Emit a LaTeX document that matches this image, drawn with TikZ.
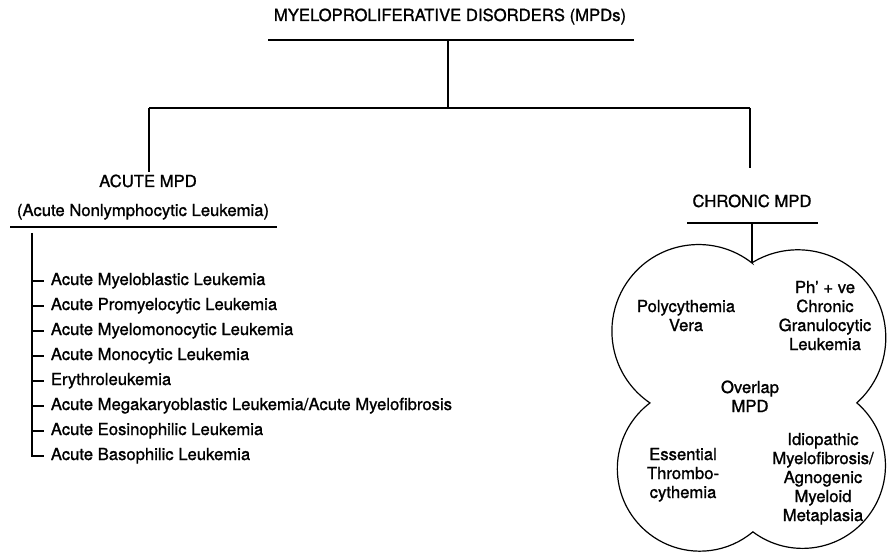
\documentclass[tikz,border=0pt]{standalone}
\usepackage{fontspec}
\setmainfont{TeX Gyre Heros}[FakeBold=1.2]

\begin{document}
\begin{tikzpicture}[x=0.75pt,y=-0.75pt,line width=1.3pt,
        every node/.style={font=\fontsize{12.5}{14.25}\selectfont, inner sep=0pt}]
        \useasboundingbox (0,0) rectangle (888,552);
        \begin{scope}[every node/.style={anchor=base, font=\fontsize{12.5}{14.25}\selectfont, inner sep=0pt}]
            \node (mpd) at (450, 21) {MYELOPROLIFERATIVE DISORDERS (MPDs)};
            \node (acute) at (148, 187) {ACUTE MPD};
            \node (anll) at (143, 216) {(Acute Nonlymphocytic Leukemia)};
            \node (chronic) at (752, 207) {CHRONIC MPD};
        \end{scope}
        \coordinate (tul) at (268, 40);
        \coordinate (tur) at (634, 40);
        \coordinate (hub) at (448, 108);
        \coordinate (jl) at (149, 108);
        \coordinate (jr) at (750, 108);
        \coordinate (acutetop) at (149, 172);
        \coordinate (chronictop) at (750, 168);
        \coordinate (aul) at (10, 227);
        \coordinate (aur) at (277, 227);
        \coordinate (cul) at (687, 223);
        \coordinate (cur) at (818, 223);
        \coordinate (stem) at (32, 233);
        \coordinate (T) at (752, 263);
        \draw (tul) -- (tur);
        \draw (hub |- tul) -- (hub);
        \draw (jl) -- (jr);
        \draw (jl) -- (acutetop);
        \draw (jr) -- (chronictop);
        \draw (aul) -- (aur);
        \draw (cul) -- (cur);
        \draw (T |- cul) -- (T);
        \begin{scope}[every node/.style={anchor=base west, font=\fontsize{12.5}{14.25}\selectfont, inner xsep=4.5pt, inner ysep=0pt}]
            \node (i1) at (44, 285) {Acute Myeloblastic Leukemia};
            \node (i2) at (44, 310) {Acute Promyelocytic Leukemia};
            \node (i3) at (44, 335) {Acute Myelomonocytic Leukemia};
            \node (i4) at (44, 360) {Acute Monocytic Leukemia};
            \node (i5) at (44, 385) {Erythroleukemia};
            \node (i6) at (44, 410) {Acute Megakaryoblastic Leukemia/Acute Myelofibrosis};
            \node (i7) at (44, 435) {Acute Eosinophilic Leukemia};
            \node (i8) at (44, 460) {Acute Basophilic Leukemia};
        \end{scope}
        \path (i1.west -| stem) edge (i1.west);
        \path (i2.west -| stem) edge (i2.west);
        \path (i3.west -| stem) edge (i3.west);
        \path (i4.west -| stem) edge (i4.west);
        \path (i5.west -| stem) edge (i5.west);
        \path (i6.west -| stem) edge (i6.west);
        \path (i7.west -| stem) edge (i7.west);
        \draw (stem) |- (i8.west);
        \draw [line width=0.9pt] (T) arc[start angle=-51.9, end angle=-235.9, radius=86.65]
            arc[start angle=-127.2, end angle=-310, radius=82.52]
            arc[start angle=126.8, end angle=-49.1, radius=82.9]
            arc[start angle=47.9, end angle=-121.6, radius=87.86] -- cycle;
        \begin{scope}[every node/.style={anchor=base, align=center, font=\fontsize{12.5}{14.25}\selectfont, inner sep=0pt}]
            \node (pv) at (686, 331) {Polycythemia\\Vera};
            \node (cgl) at (825, 350) {Ph’ + ve\\Chronic\\Granulocytic\\Leukemia};
            \node (ovl) at (750, 412) {Overlap\\MPD};
            \node (et) at (683, 498) {Essential\\Thrombo-\\cythemia};
            \node (imf) at (823, 521) {Idiopathic\\Myelofibrosis/\\Agnogenic\\Myeloid\\Metaplasia};
        \end{scope}
    \end{tikzpicture}
\end{document}
